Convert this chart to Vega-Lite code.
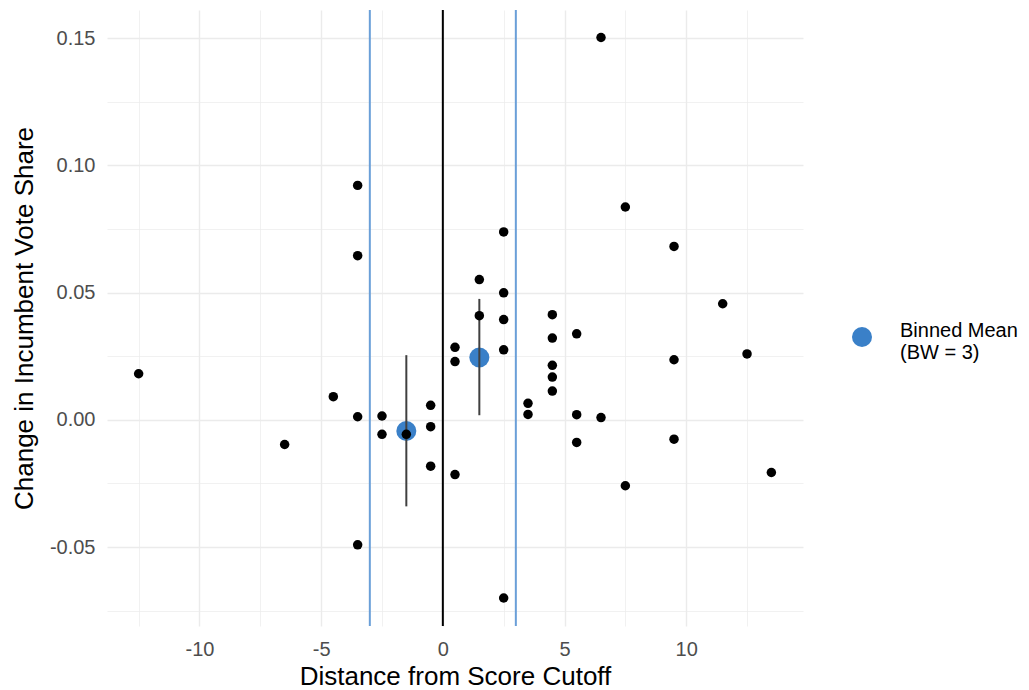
{
  "$schema": "https://vega.github.io/schema/vega-lite/v6.json",
  "autosize": "none",
  "width": 696,
  "height": 616,
  "padding": {"left": 107, "top": 10, "right": 226, "bottom": 64},
  "background": "white",
  "config": {
    "font": "Liberation Sans",
    "view": {"stroke": null},
    "axis": {
      "domain": false,
      "ticks": false,
      "labelColor": "#4d4d4d",
      "labelFontSize": 20,
      "titleFontSize": 26,
      "titleColor": "#000000",
      "titleFontWeight": "normal",
      "gridColor": "#ebebeb"
    }
  },
  "layer": [
    {
      "data": {"values": [{"x": -3}, {"x": 3}]},
      "mark": {"type": "rule", "color": "#6a9fd8", "strokeWidth": 2},
      "encoding": {
        "x": {
          "field": "x", "type": "quantitative",
          "scale": {"domain": [-13.8, 14.8], "nice": false, "zero": false},
          "axis": {
            "title": "Distance from Score Cutoff",
            "values": [-12.5, -10, -7.5, -5, -2.5, 0, 2.5, 5, 7.5, 10, 12.5],
            "labelExpr": "round(datum.value * 10) % 50 === 0 ? '' + datum.value : ''",
            "gridWidth": {"condition": {"test": "round(datum.value * 10) % 50 === 0", "value": 1.4}, "value": 0.7},
            "labelPadding": 13,
            "titlePadding": 4
          }
        }
      }
    },
    {
      "data": {"values": [{"x": 0}]},
      "mark": {"type": "rule", "color": "#000000", "strokeWidth": 2},
      "encoding": {"x": {"field": "x", "type": "quantitative"}}
    },
    {
      "data": {"values": [
        {"x": -1.5, "y": -0.0044, "series": "Binned Mean (BW = 3)"},
        {"x": 1.5, "y": 0.0245, "series": "Binned Mean (BW = 3)"}
      ]},
      "mark": {"type": "point", "filled": true, "opacity": 1, "size": 400, "shape": "circle"},
      "encoding": {
        "x": {"field": "x", "type": "quantitative"},
        "y": {
          "field": "y", "type": "quantitative",
          "scale": {"domain": [-0.081, 0.161], "nice": false, "zero": false},
          "axis": {
            "title": "Change in Incumbent Vote Share",
            "values": [-0.075, -0.05, -0.025, 0, 0.025, 0.05, 0.075, 0.1, 0.125, 0.15],
            "labelExpr": "round(datum.value * 1000) % 50 === 0 ? (datum.value < 0 ? '-' : '') + format(abs(datum.value), '.2f') : ''",
            "gridWidth": {"condition": {"test": "round(datum.value * 1000) % 50 === 0", "value": 1.4}, "value": 0.7},
            "labelPadding": 12,
            "titlePadding": 12
          }
        },
        "color": {
          "field": "series", "type": "nominal",
          "scale": {"range": ["#3a80c8"]},
          "legend": {
            "title": null,
            "orient": "none",
            "legendX": 745,
            "legendY": 317,
            "padding": 0,
            "symbolType": "circle",
            "symbolSize": 400,
            "symbolStrokeWidth": 0,
            "symbolOpacity": 1,
            "labelFontSize": 20,
            "labelColor": "#000000",
            "labelOffset": 28,
            "labelBaseline": "alphabetic",
            "labelExpr": "['Binned Mean', '(BW = 3)']"
          }
        }
      }
    },
    {
      "data": {"values": [
        {"x": -1.5, "lo": -0.034, "hi": 0.0254},
        {"x": 1.5, "lo": 0.0018, "hi": 0.0475}
      ]},
      "mark": {"type": "rule", "color": "#404040", "strokeWidth": 2},
      "encoding": {
        "x": {"field": "x", "type": "quantitative"},
        "y": {"field": "lo", "type": "quantitative"},
        "y2": {"field": "hi"}
      }
    },
    {
      "data": {"values": [
        {"x": -12.5, "y": 0.0181},
        {"x": -6.5, "y": -0.0097},
        {"x": -4.5, "y": 0.0091},
        {"x": -3.5, "y": 0.0921},
        {"x": -3.5, "y": 0.0645},
        {"x": -3.5, "y": 0.0012},
        {"x": -3.5, "y": -0.0491},
        {"x": -2.5, "y": 0.0015},
        {"x": -2.5, "y": -0.0057},
        {"x": -1.5, "y": -0.0057},
        {"x": -0.5, "y": 0.0057},
        {"x": -0.5, "y": -0.0027},
        {"x": -0.5, "y": -0.0182},
        {"x": 0.5, "y": 0.0285},
        {"x": 0.5, "y": 0.0229},
        {"x": 0.5, "y": -0.0215},
        {"x": 1.5, "y": 0.0551},
        {"x": 1.5, "y": 0.0409},
        {"x": 2.5, "y": 0.0738},
        {"x": 2.5, "y": 0.0499},
        {"x": 2.5, "y": 0.0394},
        {"x": 2.5, "y": 0.0275},
        {"x": 2.5, "y": -0.07},
        {"x": 3.5, "y": 0.0065},
        {"x": 3.5, "y": 0.0021},
        {"x": 4.5, "y": 0.0413},
        {"x": 4.5, "y": 0.0321},
        {"x": 4.5, "y": 0.0214},
        {"x": 4.5, "y": 0.0168},
        {"x": 4.5, "y": 0.0113},
        {"x": 5.5, "y": 0.0338},
        {"x": 5.5, "y": 0.002},
        {"x": 5.5, "y": -0.0089},
        {"x": 6.5, "y": 0.1502},
        {"x": 6.5, "y": 0.0009},
        {"x": 7.5, "y": 0.0836},
        {"x": 7.5, "y": -0.0259},
        {"x": 9.5, "y": 0.0681},
        {"x": 9.5, "y": 0.0236},
        {"x": 9.5, "y": -0.0076},
        {"x": 11.5, "y": 0.0456},
        {"x": 12.5, "y": 0.0259},
        {"x": 13.5, "y": -0.0207}
      ]},
      "mark": {"type": "point", "filled": true, "opacity": 1, "size": 90, "shape": "circle", "color": "#000000"},
      "encoding": {
        "x": {"field": "x", "type": "quantitative"},
        "y": {"field": "y", "type": "quantitative"}
      }
    }
  ]
}
